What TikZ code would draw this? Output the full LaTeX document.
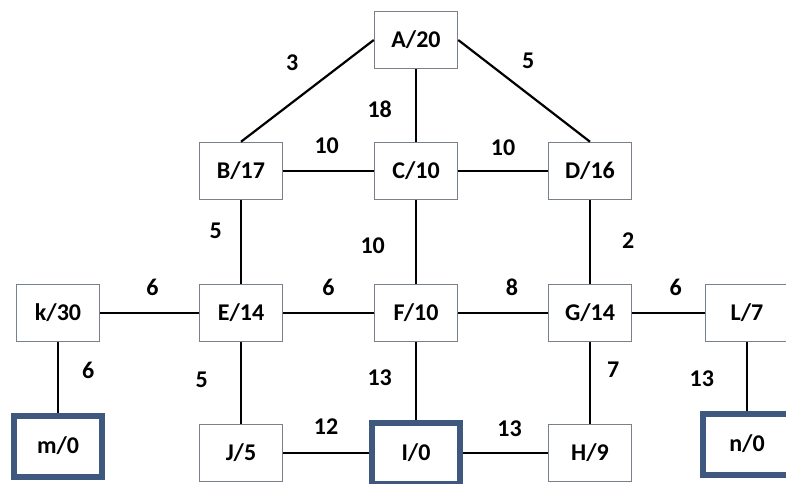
\documentclass[tikz,border=0pt]{standalone}
\usepackage{fontspec}
\setmainfont{Carlito}
\usepackage{tikz}
\usetikzlibrary{positioning}
\definecolor{boxgray}{RGB}{120,128,138}
\definecolor{goalblue}{RGB}{62,88,126}
\tikzset{
  box/.style={draw=boxgray, line width=1.5pt, fill=white, minimum width=83pt, minimum height=57pt, inner sep=0pt},
  goal/.style={draw=goalblue, line width=6pt, fill=white, minimum width=88pt, minimum height=61pt, inner sep=0pt},
  wt/.style={inner sep=0pt},
  link/.style={black, line width=2.2pt}
}
\begin{document}
\begin{tikzpicture}[x=1pt,y=1pt,font=\fontsize{24}{29}\selectfont\bfseries]
  \useasboundingbox (0,0) rectangle (786,483);

  % first row
  \node[box] (A) at (416,443) {A/20};
  % second row
  \node[box] (B) at (241,312) {B/17};
  \node[box] (C) at (416,312) {C/10};
  \node[box] (D) at (590,312) {D/16};
  % third row
  \node[box] (k) at (58,170) {k/30};
  \node[box] (E) at (241,170) {E/14};
  \node[box] (F) at (416,170) {F/10};
  \node[box] (G) at (590,170) {G/14};
  \node[box] (L) at (747,170) {L/7};
  % last row
  \node[goal] (m) at (58,37) {m/0};
  \node[box] (J) at (241,30) {J/5};
  \node[goal] (I) at (416,30) {I/0};
  \node[box] (H) at (590,30) {H/9};
  \node[goal] (n) at (747,39) {n/0};

  \draw[link] (A.west) -- node[wt, pos=0.5, above left=19pt and 8pt] {3} (B.north);
  \draw[link] (A) -- node[wt, pos=0.55, left=23pt] {18} (C);
  \draw[link] (A.east) -- node[wt, pos=0.4, above right=11pt and 10pt] {5} (D.north);
  \draw[link] (B) -- node[wt, pos=0.48, above=16pt] {10} (C);
  \draw[link] (C) -- node[wt, pos=0.5, above=14pt] {10} (D);
  \draw[link] (B) -- node[wt, pos=0.36, left=18pt] {5} (E);
  \draw[link] (C) -- node[wt, pos=0.54, left=30pt] {10} (F);
  \draw[link] (D) -- node[wt, pos=0.48, right=31pt] {2} (G);
  \draw[link] (k) -- node[wt, pos=0.53, above=16pt] {6} (E);
  \draw[link] (E) -- node[wt, pos=0.5, above=16pt] {6} (F);
  \draw[link] (F) -- node[wt, pos=0.6, above=16pt] {8} (G);
  \draw[link] (G) -- node[wt, pos=0.6, above=16pt] {6} (L);
  \draw[link] (k) -- node[wt, pos=0.4, right=23pt] {6} (m);
  \draw[link] (E) -- node[wt, pos=0.46, left=32pt] {5} (J);
  \draw[link] (F) -- node[wt, pos=0.46, left=23pt] {13} (I);
  \draw[link] (G) -- node[wt, pos=0.34, right=16pt] {7} (H);
  \draw[link] (L) -- node[wt, pos=0.54, left=32pt] {13} (n);
  \draw[link] (J) -- node[wt, pos=0.5, above=17pt] {12} (I);
  \draw[link] (I) -- node[wt, pos=0.55, above=15pt] {13} (H);
\end{tikzpicture}
\end{document}
